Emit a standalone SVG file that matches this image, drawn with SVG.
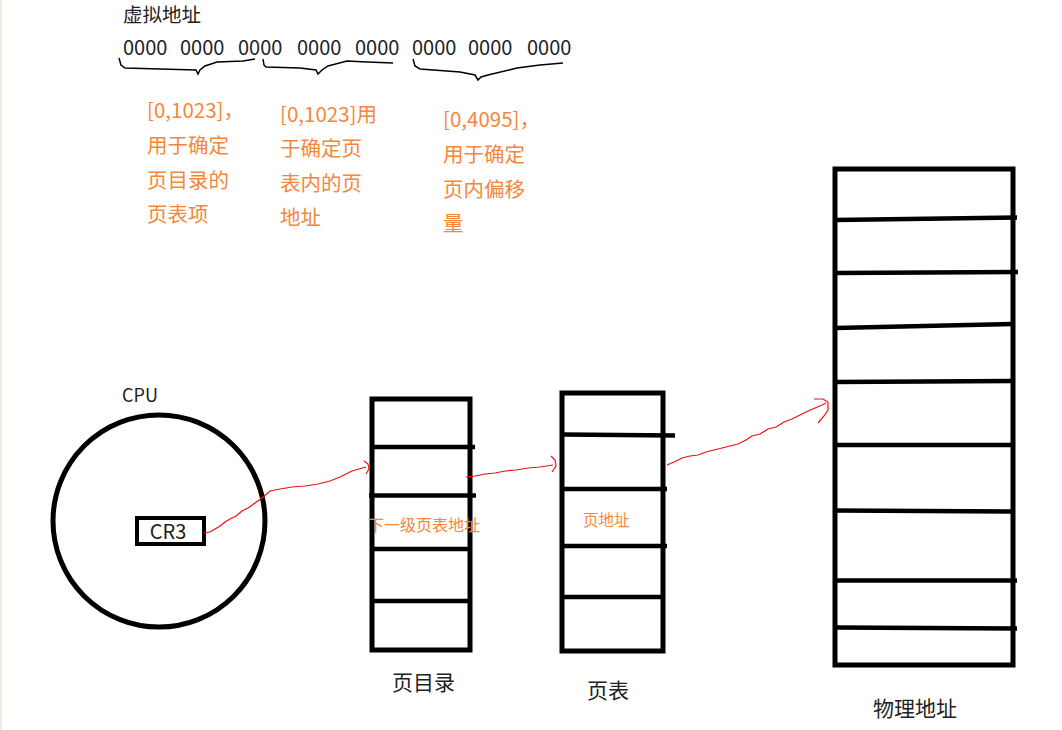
<svg xmlns="http://www.w3.org/2000/svg" width="1062" height="730" viewBox="0 0 1062 730">
<style>
.t{font-family:"Noto Sans CJK SC","Open Sans",sans-serif;fill:#222}
.o{font-family:"Noto Sans CJK SC","Open Sans",sans-serif;fill:#f5873a}
.n{font-size:20.5px}
.box{fill:none;stroke:#000;stroke-width:5}
.row{stroke:#000;stroke-width:4.5;fill:none}
.brace{fill:none;stroke:#000;stroke-width:1.5}
.red{fill:none;stroke:#ee1111;stroke-width:1.2}
</style>
<rect width="1062" height="730" fill="#fff"/>
<rect x="0" y="0" width="2" height="730" fill="#e9ecdf"/>
<g id="virtual-address">
<text class="t" x="123" y="22" font-size="19.5">虚拟地址</text>
<text class="t" y="55" font-size="20"><tspan x="123">0000</tspan><tspan x="180">0000</tspan><tspan x="238">0000</tspan><tspan x="297">0000</tspan><tspan x="355">0000</tspan><tspan x="412">0000</tspan><tspan x="468">0000</tspan><tspan x="527">0000</tspan></text>
<polyline class="brace" points="119,58 121,65 125,68 160,69 196,70 198,74 200,70 205,66 217,62 243,61 255,59"/>
<polyline class="brace" points="263,59 264,65 266,67 300,68 316,70 318,74 322,70 328,66 347,61 367,62 393,63"/>
<polyline class="brace" points="413,59 415,66 420,69 460,72 475,75 478,80 481,77 488,75 517,68 540,65 563,63"/>
</g>
<g id="notes">
<text class="o n"><tspan x="147" y="118">[0,1023]，</tspan><tspan x="147" y="153">用于确定</tspan><tspan x="147" y="188">页目录的</tspan><tspan x="147" y="222">页表项</tspan></text>
<text class="o n"><tspan x="280" y="122">[0,1023]用</tspan><tspan x="280" y="156">于确定页</tspan><tspan x="280" y="191">表内的页</tspan><tspan x="280" y="225">地址</tspan></text>
<text class="o n"><tspan x="443" y="127">[0,4095]，</tspan><tspan x="443" y="162">用于确定</tspan><tspan x="443" y="197">页内偏移</tspan><tspan x="443" y="231">量</tspan></text>
</g>
<g id="cpu">
<text class="t" x="122" y="402" font-size="18">CPU</text>
<circle cx="159" cy="521" r="106" fill="none" stroke="#000" stroke-width="5"/>
</g>
<g id="cr3">
<rect x="137" y="518" width="67" height="26" fill="none" stroke="#000" stroke-width="4"/>
<text class="t" x="168" y="539" font-size="20" text-anchor="middle">CR3</text>
</g>
<g id="page-directory">
<rect class="box" x="372" y="399" width="98" height="251"/>
<line class="row" x1="372" y1="447" x2="475" y2="447"/>
<line class="row" x1="369" y1="495.5" x2="476" y2="495.5"/>
<line class="row" x1="372" y1="549" x2="470" y2="549"/>
<line class="row" x1="372" y1="601" x2="470" y2="601"/>
<text class="o" x="368" y="531" font-size="16">下一级页表地址</text>
<text class="t" x="392" y="690" font-size="21">页目录</text>
</g>
<g id="page-table">
<rect class="box" x="562" y="393" width="101" height="258"/>
<line class="row" x1="562" y1="434.5" x2="675" y2="435.5"/>
<line class="row" x1="562" y1="489" x2="667" y2="489"/>
<line class="row" x1="562" y1="546" x2="667" y2="546"/>
<line class="row" x1="562" y1="597" x2="663" y2="597"/>
<text class="o" x="583" y="526" font-size="15.5">页地址</text>
<text class="t" x="587" y="698" font-size="21">页表</text>
</g>
<g id="physical-memory">
<rect class="box" x="835" y="169" width="178" height="496"/>
<line class="row" x1="835" y1="220" x2="1017" y2="217.5"/>
<line class="row" x1="835" y1="273" x2="1018" y2="272"/>
<line class="row" x1="835" y1="328" x2="1013" y2="324"/>
<line class="row" x1="835" y1="382" x2="1013" y2="381"/>
<line class="row" x1="835" y1="445" x2="1013" y2="445"/>
<line class="row" x1="835" y1="510.5" x2="1013" y2="511.5"/>
<line class="row" x1="835" y1="580.5" x2="1017" y2="580.5"/>
<line class="row" x1="835" y1="627.5" x2="1017" y2="628.5"/>
<text class="t" x="873" y="716" font-size="21">物理地址</text>
</g>
<g id="connectors">
<polyline class="red" points="204,533 210,532 215,529 220,526 225,522 230,519 236,516 242,511 248,508 255,503 262,498 270,491 280,489 292,487 305,486 318,484 330,481 340,477 352,471 366,467"/>
<polyline class="red" points="364,461 368,464 369,469 366,474"/>
<polyline class="red" points="466,477 475,476 485,474 495,473 505,471 516,470 528,468 540,467 553,465"/>
<polyline class="red" points="551,456 555,460 556,466 552,472"/>
<polyline class="red" points="667,465 674,462 682,458 690,456 698,455 706,452 714,450 722,448 730,446 738,444 746,440 752,436 760,434 768,429 776,427 784,422 792,419 800,415 808,411 815,408 822,405 826,403"/>
<polyline class="red" points="814,399 823,399 828,402 828,410 824,416 818,423"/>
</g>
</svg>
